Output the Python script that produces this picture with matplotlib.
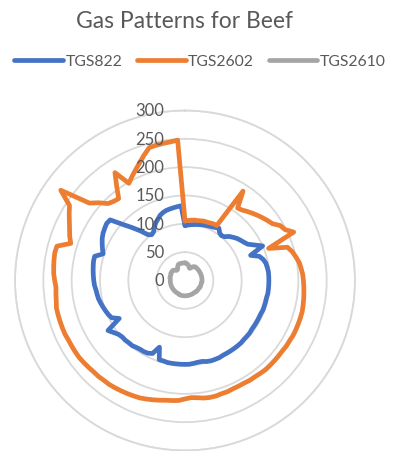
import numpy as np
import matplotlib
matplotlib.use("Agg")
import matplotlib.pyplot as plt
from matplotlib.transforms import offset_copy

plt.rcParams['font.family'] = ['Lato', 'DejaVu Sans']

# sensor readings, one value every 3 degrees (120 samples), clockwise from top
tgs822 = [
    97, 98, 99, 100, 101, 102, 103, 104, 105, 106,
    108, 110, 104, 102, 104, 110, 114, 118, 121, 124,
    128, 138, 150, 124, 138, 143, 146, 147, 148, 148,
    148, 148, 148, 148, 147, 147, 147, 147, 146, 146,
    146, 146, 146, 147, 147, 147, 148, 148, 148, 148,
    148, 148, 149, 149, 149, 148, 146, 146, 147, 148,
    148, 148, 148, 148, 148, 147, 147, 126, 141, 144,
    145, 145, 146, 148, 148, 149, 149, 151, 156, 162,
    134, 145, 148, 150, 152, 154, 156, 157, 158, 160,
    161, 162, 163, 164, 165, 165, 152, 156, 160, 164,
    167, 169, 171, 170, 148, 132, 118, 104, 100, 102,
    108, 114, 118, 123, 126, 128, 129, 130, 131, 132,
]
tgs2602 = [
    105, 106, 107, 108, 108, 109, 110, 110, 111, 112,
    112, 188, 158, 160, 164, 168, 172, 176, 180, 184,
    194, 198, 210, 158, 190, 196, 200, 204, 206, 208,
    209, 210, 211, 212, 213, 214, 214, 214, 214, 214,
    213, 213, 212, 212, 212, 212, 212, 211, 210, 210,
    209, 209, 209, 210, 210, 211, 211, 210, 208, 207,
    209, 212, 213, 214, 216, 218, 220, 222, 223, 224,
    225, 226, 227, 227, 228, 228, 229, 230, 231, 231,
    231, 231, 232, 232, 232, 232, 232, 230, 229, 228,
    230, 232, 233, 234, 235, 234, 212, 218, 223, 229,
    236, 243, 271, 217, 205, 192, 188, 186, 205, 227,
    198, 206, 214, 223, 233, 243, 244, 245, 246, 248,
]
tgs2610 = [
    31, 31, 30, 29, 28, 26, 24, 23, 24, 26,
    28, 29, 30, 30, 30, 30, 30, 30, 30, 30,
    30, 30, 30, 30, 30, 30, 30, 30, 30, 30,
    30, 30, 30, 29, 29, 29, 29, 29, 29, 28,
    28, 28, 28, 28, 28, 28, 27, 27, 27, 27,
    27, 27, 27, 27, 27, 27, 27, 27, 27, 27,
    27, 27, 27, 27, 27, 27, 27, 27, 26, 26,
    26, 26, 26, 26, 26, 26, 26, 26, 26, 26,
    26, 26, 26, 26, 26, 26, 26, 26, 26, 26,
    26, 26, 26, 27, 27, 27, 27, 27, 27, 28,
    28, 28, 28, 28, 27, 26, 24, 23, 23, 24,
    26, 28, 30, 31, 31, 31, 31, 31, 31, 31,
]
series_names = ['TGS822', 'TGS2602', 'TGS2610']
series_colors = ['#4472C4', '#ED7D31', '#A5A5A5']
r_ticks = [0, 50, 100, 150, 200, 250, 300]

fig = plt.figure(figsize=(3.93, 4.52), dpi=100)
ax = fig.add_axes([15 / 393, 0.5 / 452, 340 / 393, 340 / 452], projection='polar')
ax.set_theta_zero_location('N')
ax.set_theta_direction(-1)

n = len(tgs822)
theta = np.deg2rad(np.arange(n) * 360.0 / n)
theta = np.append(theta, theta[0])

lines = []
for vals, name, col in zip([tgs822, tgs2602, tgs2610], series_names, series_colors):
    v = np.append(vals, vals[0])
    ln, = ax.plot(theta, v, color=col, lw=3.4, label=name,
                  solid_joinstyle='round', solid_capstyle='round')
    lines.append(ln)

ax.set_ylim(0, 300)
ax.set_yticks(r_ticks[1:])
ax.set_yticklabels([])
ax.set_xticks([])
ax.yaxis.grid(True, color='#D9D9D9', lw=1.3)
ax.xaxis.grid(False)
ax.spines['polar'].set_color('#D9D9D9')
ax.spines['polar'].set_linewidth(1.3)
ax.set_facecolor('white')

tr = offset_copy(ax.transData, fig=fig, x=-21, y=0, units='dots')
for t in r_ticks:
    ax.text(0, t, str(t), transform=tr, ha='right', va='center',
            fontsize=12, color='#595959')

fig.text(185 / 393, 1 - 22 / 452, 'Gas Patterns for Beef', ha='center', va='center',
         fontsize=16.5, color='#595959')

fig.legend(handles=lines, loc='center', bbox_to_anchor=(200 / 393, 1 - 62 / 452),
           ncol=3, frameon=False, fontsize=11.3, handlelength=3.1,
           handletextpad=0.15, columnspacing=0.95, borderaxespad=0,
           labelcolor='#595959')

fig.savefig('out.png', dpi=100)
